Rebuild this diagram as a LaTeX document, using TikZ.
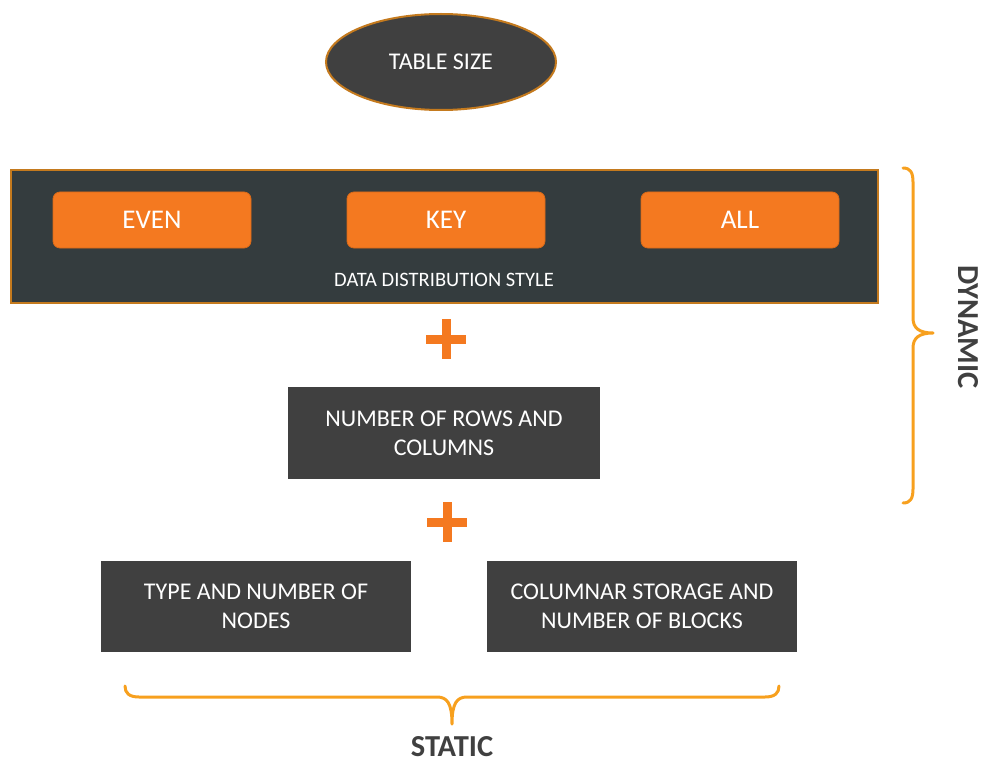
\documentclass[tikz,border=0pt]{standalone}
\usepackage{fontspec}
\setmainfont{Carlito}
\usetikzlibrary{shapes.geometric}
\definecolor{boxgray}{HTML}{404040}
\definecolor{slate}{HTML}{343C3E}
\definecolor{edgebrown}{HTML}{C47A1E}
\definecolor{orng}{HTML}{F47920}
\definecolor{orngedge}{HTML}{D86A18}
\definecolor{bracec}{HTML}{F7A01E}
\definecolor{labelc}{HTML}{404040}
\begin{document}
\begin{tikzpicture}[x=1pt,y=1pt,
  graybox/.style={draw=none,fill=boxgray,text=white,minimum width=310pt,minimum height=91pt,inner sep=0pt,align=center,font=\fontsize{24}{29}\selectfont},
  pill/.style={draw=orngedge,line width=0.8pt,fill=orng,rounded corners=7pt,text=white,minimum width=198pt,minimum height=56pt,inner sep=0pt,font=\fontsize{27}{30}\selectfont},
  plusbar/.style={fill=orng,draw=none,inner sep=0pt},
  bracepath/.style={draw=bracec,line width=3pt,line cap=round,line join=round},
  sidelabel/.style={text=labelc,font=\bfseries\fontsize{30.5}{36}\selectfont,inner sep=0pt}]
\useasboundingbox (0,0) rectangle (982,-762);
% top ellipse
\node (tsize) [ellipse,draw=edgebrown,line width=2pt,fill=boxgray,minimum width=230pt,minimum height=96pt,inner sep=0pt,text=white,font=\fontsize{24}{28}\selectfont] at (441,-62) {TABLE SIZE};
% distribution panel
\node (panel) [draw=edgebrown,line width=2pt,fill=slate,minimum width=867pt,minimum height=133pt,inner sep=0pt] at (444.5,-236.5) {};
\node (even) [pill] at (152,-220) {EVEN};
\node (key) [pill] at (446,-220) {KEY};
\node (all) [pill] at (740,-220) {ALL};
\node (dds) [text=white,font=\fontsize{20.5}{24}\selectfont,inner sep=0pt] at (444,-280) {DATA DISTRIBUTION STYLE};
% plus 1
\node (plusAh) [plusbar,minimum width=40pt,minimum height=9pt] at (446,-339) {};
\node (plusAv) [plusbar,minimum width=9pt,minimum height=40pt] at (446,-339) {};
% rows and columns
\node (rows) [graybox,minimum width=312pt,minimum height=92pt] at (444,-433) {NUMBER OF ROWS AND\\COLUMNS};
% plus 2
\node (plusBh) [plusbar,minimum width=40pt,minimum height=9pt] at (447,-522) {};
\node (plusBv) [plusbar,minimum width=9pt,minimum height=40pt] at (447,-522) {};
% bottom boxes
\node (nodes) [graybox] at (256,-606.5) {TYPE AND NUMBER OF\\NODES};
\node (colstore) [graybox] at (642,-606.5) {COLUMNAR STORAGE AND\\NUMBER OF BLOCKS};
% right brace
\coordinate (rbtop) at (903,-168);
\coordinate (rbtip) at (933,-333);
\coordinate (rbbot) at (903,-503);
\draw[bracepath] (rbtop) .. controls (910,-168) and (913,-172) .. (913,-182) -- (913,-318)
  .. controls (913,-328) and (919,-333) .. (rbtip)
  .. controls (919,-333) and (913,-338) .. (913,-348) -- (913,-489)
  .. controls (913,-499) and (910,-503) .. (rbbot);
\node (dyn) [sidelabel,rotate=-90] at (968,-327) {DYNAMIC};
% bottom brace
\coordinate (bbleft) at (125,-686);
\coordinate (bbtip) at (452,-724);
\coordinate (bbright) at (779,-686);
\draw[bracepath] (bbleft) .. controls (125,-693) and (129,-697) .. (139,-697) -- (437,-697)
  .. controls (447,-697) and (452,-703) .. (bbtip)
  .. controls (452,-703) and (457,-697) .. (467,-697) -- (765,-697)
  .. controls (775,-697) and (779,-693) .. (bbright);
\node (stat) [sidelabel,text depth=0pt] at (452,-746) {STATIC};
\end{tikzpicture}
\end{document}
